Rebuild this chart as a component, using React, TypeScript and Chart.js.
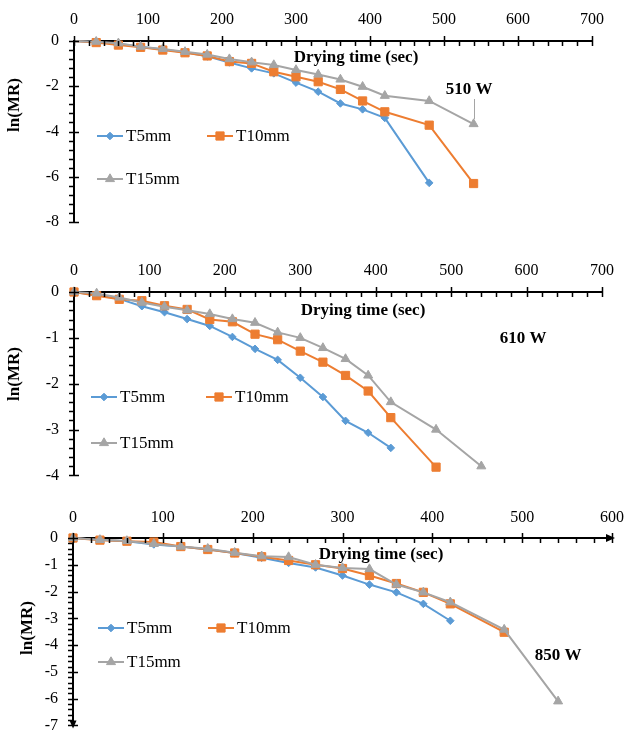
import React, { useEffect, useRef } from 'react';
import { Chart, registerables } from 'chart.js';
import { drawPoint } from 'chart.js/helpers';

Chart.register(...registerables);

const FONT = "'Liberation Serif', 'Times New Roman', Times, serif";

const seriesLabels = ['T5mm', 'T10mm', 'T15mm'];
const colors = ['#5B9BD5', '#ED7D31', '#A5A5A5'];
const pointStyles = ['rectRot', 'rect', 'triangle'];
const pointRadii = [3.8, 5.8, 5.2];

// ---- 510 W ----
const time510_T5 = [0, 30, 60, 90, 120, 150, 180, 210, 240, 270, 300, 330, 360, 390, 420, 480];
const time510_T10 = [0, 30, 60, 90, 120, 150, 180, 210, 240, 270, 300, 330, 360, 390, 420, 480, 540];
const time510_T15 = [0, 30, 60, 90, 120, 150, 180, 210, 240, 270, 300, 330, 360, 390, 420, 480, 540];
const lnMR510_T5 = [0, -0.05, -0.12, -0.25, -0.38, -0.5, -0.68, -0.95, -1.21, -1.43, -1.84, -2.24, -2.76, -3.02, -3.4, -6.27];
const lnMR510_T10 = [0, -0.07, -0.18, -0.28, -0.4, -0.52, -0.66, -0.91, -0.99, -1.36, -1.58, -1.8, -2.14, -2.65, -3.13, -3.72, -6.3];
const lnMR510_T15 = [0, -0.03, -0.1, -0.25, -0.35, -0.48, -0.6, -0.8, -0.94, -1.06, -1.28, -1.48, -1.7, -2.02, -2.42, -2.65, -3.67];

// ---- 610 W ----
const time610_T5 = [0, 30, 60, 90, 120, 150, 180, 210, 240, 270, 300, 330, 360, 390, 420];
const time610_T10 = [0, 30, 60, 90, 120, 150, 180, 210, 240, 270, 300, 330, 360, 390, 420, 480];
const time610_T15 = [0, 30, 60, 90, 120, 150, 180, 210, 240, 270, 300, 330, 360, 390, 420, 480, 540];
const lnMR610_T5 = [0, -0.07, -0.15, -0.31, -0.44, -0.59, -0.74, -0.98, -1.24, -1.48, -1.87, -2.29, -2.81, -3.07, -3.4];
const lnMR610_T10 = [0, -0.08, -0.16, -0.19, -0.3, -0.38, -0.6, -0.65, -0.92, -1.04, -1.29, -1.53, -1.82, -2.16, -2.74, -3.82];
const lnMR610_T15 = [0, -0.03, -0.12, -0.23, -0.32, -0.4, -0.48, -0.59, -0.67, -0.88, -1.0, -1.22, -1.46, -1.82, -2.4, -3.0, -3.8];

// ---- 850 W ----
const time850_T5 = [0, 30, 60, 90, 120, 150, 180, 210, 240, 270, 300, 330, 360, 390, 420];
const time850_T10 = [0, 30, 60, 90, 120, 150, 180, 210, 240, 270, 300, 330, 360, 390, 420, 480];
const time850_T15 = [0, 30, 60, 90, 120, 150, 180, 210, 240, 270, 300, 330, 360, 390, 420, 480, 540];
const lnMR850_T5 = [0, -0.07, -0.12, -0.24, -0.32, -0.43, -0.56, -0.74, -0.93, -1.1, -1.4, -1.74, -2.03, -2.46, -3.09];
const lnMR850_T10 = [0, -0.08, -0.12, -0.15, -0.32, -0.43, -0.56, -0.7, -0.84, -1.0, -1.14, -1.4, -1.7, -2.03, -2.46, -3.52];
const lnMR850_T15 = [0, -0.07, -0.11, -0.22, -0.32, -0.4, -0.55, -0.68, -0.71, -1.0, -1.12, -1.16, -1.74, -2.03, -2.4, -3.42, -6.1];

const xTitle = 'Drying time (sec)';
const yTitle = 'ln(MR)';

type PanelCfg = {
  top: number;
  width: number;
  height: number;
  area: { left: number; top: number; right: number; bottom: number };
  xMax: number;
  yMin: number;
  yStep: number;
  yMinor: number;
  times: number[][];
  values: number[][];
  power: string;
  powerPos: [number, number];
  titlePos: [number, number];
  yTitlePos: [number, number];
  legend: { x1: number; x2: number; y1: number; y2: number };
  xPad: number;
  arrow: boolean;
  leader: boolean;
  originMarker: boolean;
};

const panels: PanelCfg[] = [
  {
    top: 0, width: 626, height: 250,
    area: { left: 74, top: 41, right: 592, bottom: 222 },
    xMax: 700, yMin: -8, yStep: 2, yMinor: 0.4,
    times: [time510_T5, time510_T10, time510_T15],
    values: [lnMR510_T5, lnMR510_T10, lnMR510_T15],
    power: '510 W', powerPos: [469, 90], titlePos: [356, 58], yTitlePos: [15, 105],
    legend: { x1: 97, x2: 207, y1: 136, y2: 179 },
    xPad: 12, arrow: false, leader: true, originMarker: false,
  },
  {
    top: 250, width: 626, height: 250,
    area: { left: 74, top: 292, right: 604, bottom: 478 },
    xMax: 700, yMin: -4, yStep: 1, yMinor: 0.2,
    times: [time610_T5, time610_T10, time610_T15],
    values: [lnMR610_T5, lnMR610_T10, lnMR610_T15],
    power: '610 W', powerPos: [523, 339], titlePos: [363, 311], yTitlePos: [15, 374],
    legend: { x1: 91, x2: 206, y1: 397, y2: 443 },
    xPad: 12, arrow: false, leader: false, originMarker: true,
  },
  {
    top: 500, width: 660, height: 250,
    area: { left: 73, top: 538, right: 612, bottom: 732 },
    xMax: 600, yMin: -7, yStep: 1, yMinor: 0.2,
    times: [time850_T5, time850_T10, time850_T15],
    values: [lnMR850_T5, lnMR850_T10, lnMR850_T15],
    power: '850 W', powerPos: [558, 656], titlePos: [381, 555], yTitlePos: [28, 628],
    legend: { x1: 98, x2: 208, y1: 628, y2: 662 },
    xPad: 11, arrow: true, leader: false, originMarker: true,
  },
];

function makeDecor(p: PanelCfg) {
  return {
    id: 'decor',
    afterDraw(chart: any) {
      const ctx: CanvasRenderingContext2D = chart.ctx;
      const xs = chart.scales.x;
      const ys = chart.scales.y;
      const ox = xs.getPixelForValue(0);
      const oy = ys.getPixelForValue(0);
      const off = p.top;
      ctx.save();
      // tick marks
      ctx.strokeStyle = '#000';
      ctx.lineWidth = 1.5;
      ctx.beginPath();
      for (let v = 0; v <= p.xMax + 1e-6; v += 20) {
        const px = Math.round(xs.getPixelForValue(v)) + 0.5;
        const major = v % 100 === 0;
        ctx.moveTo(px, major ? oy - 5 : oy);
        ctx.lineTo(px, oy + 5);
      }
      const n = Math.round(-p.yMin / p.yMinor);
      for (let k = 0; k <= n; k++) {
        const v = -k * p.yMinor;
        const py = Math.round(ys.getPixelForValue(v)) + 0.5;
        const r = v / p.yStep;
        const major = Math.abs(r - Math.round(r)) < 1e-6;
        ctx.moveTo(ox - 5, py);
        ctx.lineTo(major ? ox + 5 : ox, py);
      }
      ctx.stroke();

      if (p.arrow) {
        const ex = xs.getPixelForValue(p.xMax);
        ctx.fillStyle = '#000';
        ctx.beginPath();
        ctx.moveTo(ex + 3, oy);
        ctx.lineTo(ex - 6, oy - 4);
        ctx.lineTo(ex - 6, oy + 4);
        ctx.closePath();
        ctx.fill();
        const ey = ys.getPixelForValue(p.yMin);
        ctx.beginPath();
        ctx.moveTo(ox, ey + 3);
        ctx.lineTo(ox - 3.5, ey - 5);
        ctx.lineTo(ox + 3.5, ey - 5);
        ctx.closePath();
        ctx.fill();
      }

      // texts
      ctx.fillStyle = '#000';
      ctx.textAlign = 'center';
      ctx.textBaseline = 'middle';
      ctx.font = `bold 17px ${FONT}`;
      ctx.fillText(xTitle, p.titlePos[0], p.titlePos[1] - off);
      ctx.fillText(p.power, p.powerPos[0], p.powerPos[1] - off);
      ctx.save();
      ctx.translate(p.yTitlePos[0], p.yTitlePos[1] - off);
      ctx.rotate(-Math.PI / 2);
      ctx.fillText(yTitle, 0, 0);
      ctx.restore();

      if (p.leader) {
        const meta = chart.getDatasetMeta(2);
        const last = meta.data[meta.data.length - 1];
        ctx.strokeStyle = '#A5A5A5';
        ctx.lineWidth = 1;
        ctx.beginPath();
        ctx.moveTo(Math.round(last.x) + 0.5, p.powerPos[1] - off + 9);
        ctx.lineTo(Math.round(last.x) + 0.5, last.y - 5);
        ctx.stroke();
      }

      // legend
      ctx.font = `17px ${FONT}`;
      ctx.textAlign = 'left';
      for (let i = 0; i < 3; i++) {
        const x0 = i === 1 ? p.legend.x2 : p.legend.x1;
        const y = (i < 2 ? p.legend.y1 : p.legend.y2) - off;
        ctx.strokeStyle = colors[i];
        ctx.fillStyle = colors[i];
        ctx.lineWidth = 2;
        ctx.beginPath();
        ctx.moveTo(x0, y);
        ctx.lineTo(x0 + 26, y);
        ctx.stroke();
        ctx.lineWidth = 1;
        drawPoint(ctx, { pointStyle: pointStyles[i] as any, rotation: 0, radius: pointRadii[i], borderWidth: 1 } as any, x0 + 13, y);
        ctx.fillStyle = '#000';
        ctx.fillText(seriesLabels[i], x0 + 29, y + 1);
      }
      ctx.restore();
    },
  };
}

function buildConfig(p: PanelCfg): any {
  const xAxisH = p.area.top - p.top;
  const padRight = p.width - p.area.right;
  const padBottom = p.height - (p.area.bottom - p.top);
  return {
    type: 'line',
    data: {
      datasets: p.times.map((ts, i) => ({
        label: seriesLabels[i],
        data: ts.map((t, j) => ({ x: t, y: p.values[i][j] })),
        borderColor: colors[i],
        backgroundColor: colors[i],
        pointBackgroundColor: colors[i],
        pointBorderColor: colors[i],
        pointStyle: pointStyles[i],
        pointRadius: (c: any) => (c.dataIndex === 0 && !p.originMarker ? 0 : pointRadii[i]),
        pointBorderWidth: 1,
        borderWidth: 2,
        tension: 0,
        clip: false,
        order: 3 - i,
      })),
    },
    options: {
      animation: false,
      responsive: false,
      maintainAspectRatio: false,
      events: [],
      layout: { padding: { left: 0, top: 0, right: padRight, bottom: padBottom } },
      plugins: { legend: { display: false }, tooltip: { enabled: false }, title: { display: false } },
      scales: {
        x: {
          type: 'linear',
          position: 'top',
          min: 0,
          max: p.xMax,
          ticks: {
            stepSize: 100,
            autoSkip: false,
            maxRotation: 0,
            color: '#000',
            padding: p.xPad,
            font: { family: FONT, size: 16 },
          },
          grid: { display: false, drawTicks: false },
          border: { display: true, color: '#000', width: 2 },
          afterFit: (s: any) => { s.height = xAxisH; },
        },
        y: {
          type: 'linear',
          position: 'left',
          min: p.yMin,
          max: 0,
          ticks: {
            stepSize: p.yStep,
            autoSkip: false,
            color: '#000',
            padding: 15,
            font: { family: FONT, size: 16 },
          },
          grid: { display: false, drawTicks: false },
          border: { display: true, color: '#000', width: 2 },
          afterFit: (s: any) => { s.width = p.area.left; },
        },
      },
    },
    plugins: [makeDecor(p)],
  };
}

function PanelChart({ p }: { p: PanelCfg }) {
  const ref = useRef<HTMLCanvasElement>(null);
  useEffect(() => {
    if (!ref.current) return;
    const chart = new Chart(ref.current, buildConfig(p));
    return () => chart.destroy();
  }, [p]);
  return (
    <canvas
      ref={ref}
      width={p.width}
      height={p.height}
      style={{ position: 'absolute', left: 0, top: p.top, width: p.width, height: p.height }}
    />
  );
}

export default function App() {
  return (
    <div style={{ position: 'absolute', left: 0, top: 0, width: 626, height: 739, overflow: 'hidden', background: '#fff' }}>
      {panels.map((p, i) => (
        <PanelChart key={i} p={p} />
      ))}
    </div>
  );
}
